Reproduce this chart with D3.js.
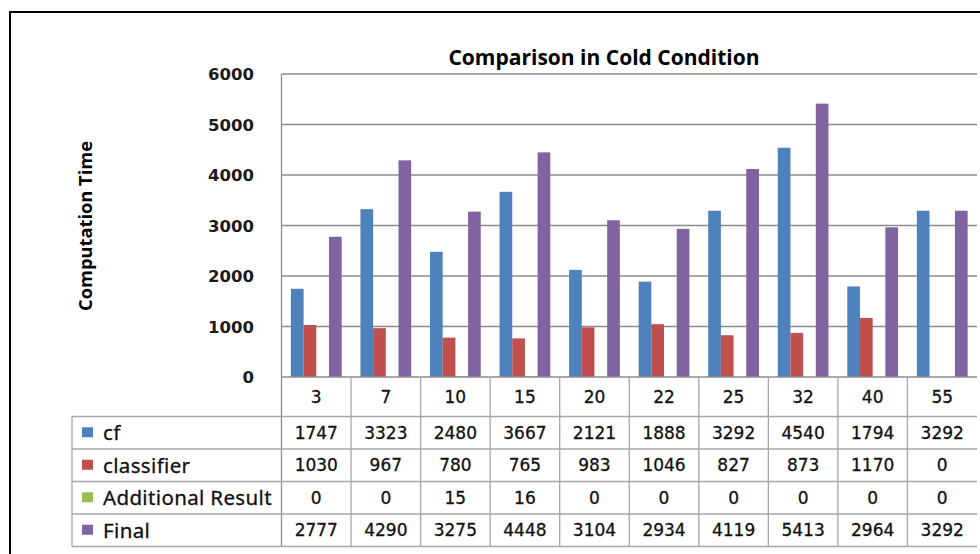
<!DOCTYPE html>
<html>
<head>
<meta charset="utf-8">
<script src="https://cdn.jsdelivr.net/npm/d3@7"></script>
<style>
  html, body { margin: 0; padding: 0; background: #fff; }
  svg { display: block; }
</style>
</head>
<body>
<svg id="chart" width="980" height="554"></svg>
<script>
// ---- data ----
const categories = ["3", "7", "10", "15", "20", "22", "25", "32", "40", "55"];
const seriesNames = ["cf", "classifier", "Additional Result", "Final"];
const cf = [1747, 3323, 2480, 3667, 2121, 1888, 3292, 4540, 1794, 3292];
const classifier = [1030, 967, 780, 765, 983, 1046, 827, 873, 1170, 0];
const additionalResult = [0, 0, 15, 16, 0, 0, 0, 0, 0, 0];
const finalValues = [2777, 4290, 3275, 4448, 3104, 2934, 4119, 5413, 2964, 3292];
const yTicks = [0, 1000, 2000, 3000, 4000, 5000, 6000];
const seriesColors = ["#4F81BD", "#C0504D", "#9BBB59", "#8064A2"];
const titleText = "Comparison in Cold Condition";
const yTitleText = "Computation Time";

const seriesValues = [cf, classifier, additionalResult, finalValues];

// ---- layout ----
const svg = d3.select("#chart");
const plotLeft = 281.5, plotRight = 977, plotTop = 74, plotBottom = 377;
const tableLeft = 72;
const headerBottom = 416.5;
const rowH = 32.5;
const tableBottom = headerBottom + rowH * 4;
const gridColor = "#8c8c8c";
const tableColor = "#a6a6a6";
const textColor = "#111";

// outer frame
svg.append("rect")
  .attr("x", 10).attr("y", 12)
  .attr("width", 1000).attr("height", 600)
  .attr("fill", "none").attr("stroke", "#000").attr("stroke-width", 2);

const x = d3.scaleBand().domain(categories).range([plotLeft, plotRight]).paddingInner(0).paddingOuter(0);
const xs = d3.scaleBand().domain(seriesNames).range([0, x.bandwidth()]).paddingInner(0).paddingOuter(0.74);
const y = d3.scaleLinear().domain([0, 6000]).range([plotBottom, plotTop]);

// gridlines
svg.append("g").selectAll("line").data(yTicks.filter(d => d > 0)).join("line")
  .attr("x1", plotLeft).attr("x2", plotRight)
  .attr("y1", d => y(d)).attr("y2", d => y(d))
  .attr("stroke", gridColor).attr("stroke-width", 1.3);

// y axis labels via d3 axis
const yAxis = d3.axisLeft(y).tickValues(yTicks).tickSize(0).tickPadding(0).tickFormat(d3.format("d"));
const yg = svg.append("g").attr("transform", `translate(254,0)`).call(yAxis);
yg.select(".domain").remove();
yg.selectAll("text")
  .attr("font-family", "DejaVu Sans, Verdana, sans-serif")
  .attr("font-weight", "bold")
  .attr("font-size", 16.5)
  .attr("fill", "#1a1a1a")
  .attr("dy", "0.35em");

// bars
const groups = svg.append("g").selectAll("g").data(categories).join("g")
  .attr("transform", d => `translate(${x(d)},0)`);
groups.selectAll("rect")
  .data((c, i) => seriesNames.map((s, j) => ({ s, j, v: seriesValues[j][i] })))
  .join("rect")
  .attr("x", d => xs(d.s))
  .attr("width", xs.bandwidth())
  .attr("y", d => y(d.v))
  .attr("height", d => y(0) - y(d.v))
  .attr("fill", d => seriesColors[d.j]);

// y axis line
svg.append("line")
  .attr("x1", plotLeft).attr("x2", plotLeft).attr("y1", plotTop).attr("y2", tableBottom)
  .attr("stroke", gridColor).attr("stroke-width", 1.3);
// x axis line / header top
svg.append("line")
  .attr("x1", plotLeft).attr("x2", plotRight).attr("y1", plotBottom).attr("y2", plotBottom)
  .attr("stroke", gridColor).attr("stroke-width", 1.3);

// data table grid
const tg = svg.append("g");
const hLines = [0, 1, 2, 3, 4].map(k => headerBottom + k * rowH);
tg.selectAll("line.h").data(hLines).join("line")
  .attr("x1", tableLeft).attr("x2", plotRight)
  .attr("y1", d => d).attr("y2", d => d)
  .attr("stroke", tableColor).attr("stroke-width", 1.3);
tg.selectAll("line.v").data(categories.slice(1)).join("line")
  .attr("x1", d => x(d)).attr("x2", d => x(d))
  .attr("y1", plotBottom).attr("y2", tableBottom)
  .attr("stroke", tableColor).attr("stroke-width", 1.3);
tg.append("line")
  .attr("x1", tableLeft).attr("x2", tableLeft).attr("y1", headerBottom).attr("y2", tableBottom)
  .attr("stroke", tableColor).attr("stroke-width", 1.3);

// category header labels
svg.append("g").selectAll("text").data(categories).join("text")
  .attr("x", d => x(d) + x.bandwidth() / 2)
  .attr("y", (plotBottom + headerBottom) / 2)
  .attr("dy", "0.36em")
  .attr("text-anchor", "middle")
  .attr("font-family", "DejaVu Sans, Verdana, sans-serif")
  .attr("font-size", 17)
  .attr("fill", textColor)
  .attr("stroke", textColor).attr("stroke-width", 0.3)
  .text(d => d);

// legend rows and values
seriesNames.forEach((s, j) => {
  const cy = headerBottom + rowH * j + rowH / 2;
  svg.append("rect")
    .attr("x", 82).attr("y", cy - 5.5).attr("width", 11).attr("height", 10)
    .attr("fill", seriesColors[j]);
  svg.append("text")
    .attr("x", 103).attr("y", cy).attr("dy", "0.36em")
    .attr("font-family", "Noto Sans, Open Sans, sans-serif")
    .attr("font-size", 20.5)
    .attr("letter-spacing", 0.35)
    .attr("fill", textColor)
    .attr("stroke", textColor).attr("stroke-width", 0.3)
    .text(s);
  svg.append("g").selectAll("text").data(seriesValues[j]).join("text")
    .attr("x", (d, i) => x(categories[i]) + x.bandwidth() / 2)
    .attr("y", cy).attr("dy", "0.36em")
    .attr("text-anchor", "middle")
    .attr("font-family", "DejaVu Sans, Verdana, sans-serif")
    .attr("font-size", 17)
    .attr("fill", textColor)
    .attr("stroke", textColor).attr("stroke-width", 0.3)
    .text(d => d);
});

// title
svg.append("text")
  .attr("x", 604).attr("y", 58).attr("dy", "0.35em")
  .attr("text-anchor", "middle")
  .attr("font-family", "Open Sans, sans-serif")
  .attr("font-weight", "bold")
  .attr("font-size", 21)
  .attr("fill", "#000")
  .text(titleText);

// y axis title
svg.append("text")
  .attr("transform", "translate(86,226) rotate(-90)")
  .attr("dy", "0.35em")
  .attr("text-anchor", "middle")
  .attr("font-family", "Open Sans, sans-serif")
  .attr("font-weight", "bold")
  .attr("font-size", 18.3)
  .attr("fill", "#000")
  .text(yTitleText);
</script>
</body>
</html>
